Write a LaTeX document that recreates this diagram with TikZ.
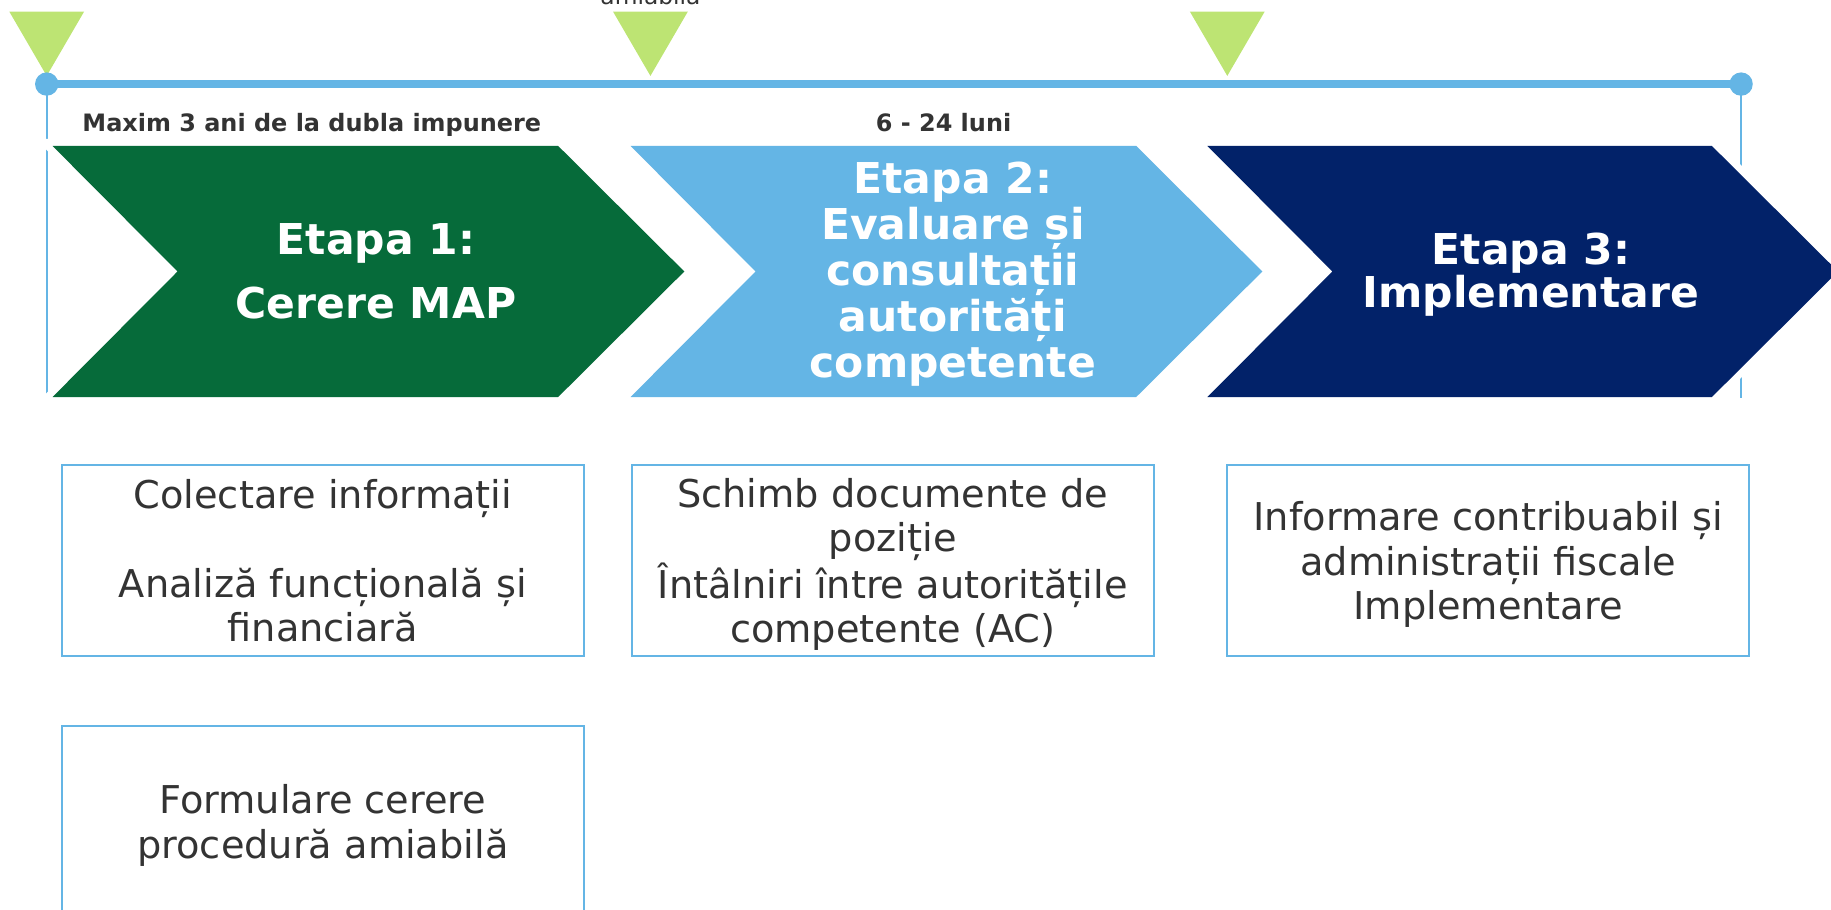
\documentclass[tikz,border=0pt]{standalone}
\usepackage{fontspec}
\setmainfont{DejaVu Sans}
\usetikzlibrary{positioning}

\definecolor{mapgreen}{HTML}{066B3A}
\definecolor{mapsky}{HTML}{64B5E5}
\definecolor{mapnavy}{HTML}{022269}
\definecolor{maplime}{HTML}{BDE473}
\definecolor{mapgray}{HTML}{333333}

\tikzset{
  chevron/.style={preaction={draw=white,line width=6pt}},
  etapa/.style={text=white,align=center,inner sep=0pt,text depth=0pt,
    font=\bfseries\fontsize{18.2}{#1}\selectfont},
  infobox/.style={draw=mapsky,line width=0.75pt,text=mapgray,align=center,
    minimum width=223.5pt,minimum height=82pt,inner sep=0pt,text depth=0pt,
    font=\fontsize{16.4}{19}\selectfont},
  period/.style={text=mapgray,text depth=0pt,
    font=\bfseries\fontsize{10.25}{12}\selectfont}
}

\begin{document}
\begin{tikzpicture}[x=0.5pt,y=-0.5pt]
\useasboundingbox (0,0) rectangle (1568,779);

% time line ends
\coordinate (tl-start) at (40,72);
\coordinate (tl-end) at (1491,72);
\coordinate (tl-startfoot) at (40,339);
\coordinate (tl-endfoot) at (1491,341);
\draw[mapsky,line width=0.8pt] (tl-start) -- (tl-startfoot);
\draw[mapsky,line width=0.8pt] (tl-end) -- (tl-endfoot);

% the three stages
\fill[mapgreen,chevron] (45,125) -- (478,125) -- (586,232.5) -- (478,340)
  -- (45,340) -- (152,232.5) -- cycle;
\fill[mapsky,chevron] (540,125) -- (973,125) -- (1081,232.5) -- (973,340)
  -- (540,340) -- (647,232.5) -- cycle;
\fill[mapnavy,chevron] (1034,125) -- (1466,125) -- (1574,232.5) -- (1466,340)
  -- (1034,340) -- (1141,232.5) -- cycle;

\node[etapa=27.5pt] (etapa1) at (322,232) {Etapa 1:\\Cerere MAP};
\node[etapa=19.75pt] (etapa2) at (816,231)
  {Etapa 2:\\Evaluare și\\consultații\\autorități\\competente};
\node[etapa=18.5pt] (etapa3) at (1311,231.5) {Etapa 3:\\Implementare};

% markers and time line
\foreach \x in {40,557,1051}
  \fill[maplime] (\x-32,10) -- (\x+32,10) -- (\x,65) -- cycle;
\draw[mapsky,line width=3.5pt] (tl-start) -- (tl-end);
\fill[mapsky] (tl-start) circle[radius=5pt];
\fill[mapsky] (tl-end) circle[radius=5pt];

\node[text=mapgray,font=\fontsize{10}{12}\selectfont,anchor=base] (amiabil)
  at (557,3.5) {amiabilă};
\node[period] (durata1) at (267,105) {Maxim 3 ani de la dubla impunere};
\node[period] (durata2) at (808,105) {6 - 24 luni};

% activities
\node[infobox] (colectare) at (276.5,480)
  {Colectare informații\\~\\Analiză funcțională și\\financiară};
\node[infobox] (schimb) at (764.5,480)
  {Schimb documente de\\poziție\\Întâlniri între autoritățile\\competente (AC)};
\node[infobox] (informare) at (1274.5,480)
  {Informare contribuabil și\\administrații fiscale\\Implementare};
\node[infobox,below=29pt of colectare] (formulare)
  {Formulare cerere\\procedură amiabilă};

\end{tikzpicture}
\end{document}
